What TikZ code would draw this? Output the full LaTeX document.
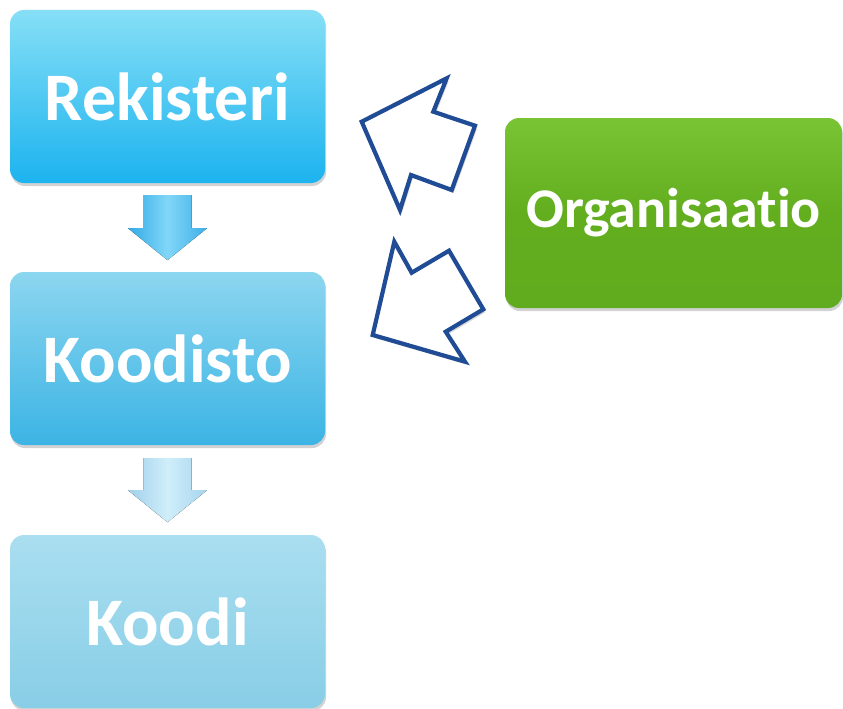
\documentclass[tikz,border=0pt]{standalone}
\usepackage{fontspec}
\setmainfont[Ligatures={NoCommon}]{Carlito}
\usetikzlibrary{shadows}
\definecolor{arrowblue}{HTML}{1F4C94}
\tikzset{
  box/.style={draw=none, rounded corners=14pt, text=white, inner sep=0pt,
    font=\bfseries\fontsize{68}{68}\selectfont,
    drop shadow={opacity=0.35, shadow xshift=1pt, shadow yshift=-3pt}},
  hollow/.style={draw=arrowblue, line width=4.2pt, fill=white, line join=miter,
    drop shadow={opacity=0.3, shadow xshift=2pt, shadow yshift=-3pt}}
}
\begin{document}
\begin{tikzpicture}[x=1pt,y=-1pt]
\useasboundingbox[fill=white] (0,0) rectangle (843,709);

\node[box, minimum width=315pt, minimum height=173pt,
  top color={rgb,255:red,134;green,223;blue,246}, bottom color={rgb,255:red,28;green,179;blue,239}]
  (rek) at (167.5,96.5) {Rekisteri};
\node[box, minimum width=315pt, minimum height=173pt,
  top color={rgb,255:red,140;green,214;blue,240}, bottom color={rgb,255:red,60;green,180;blue,228}]
  (kod) at (167.5,358.5) {Koodisto};
\node[box, minimum width=315pt, minimum height=173pt,
  top color={rgb,255:red,170;green,222;blue,240}, bottom color={rgb,255:red,136;green,206;blue,230}]
  (koo) at (167.5,621.5) {Koodi};
\node[box, minimum width=337pt, minimum height=190pt, font=\bfseries\fontsize{56}{56}\selectfont,
  top color={rgb,255:red,120;green,196;blue,52}, bottom color={rgb,255:red,96;green,172;blue,30},
  middle color={rgb,255:red,98;green,174;blue,31}]
  (org) at (673.5,213) {Organisaatio};

\begin{scope}[shift={(rek.south)}]
  \fill[left color={rgb,255:red,50;green,170;blue,230}, right color={rgb,255:red,60;green,175;blue,232},
        middle color={rgb,255:red,130;green,215;blue,248}]
    (-24,12) -- (24,12) -- (24,45) -- (39.5,45) -- (0,77) -- (-39.5,45) -- (-24,45) -- cycle;
\end{scope}
\begin{scope}[shift={(kod.south)}]
  \fill[left color={rgb,255:red,160;green,208;blue,235}, right color={rgb,255:red,165;green,212;blue,238},
        middle color={rgb,255:red,208;green,238;blue,250}]
    (-24,13) -- (24,13) -- (24,45) -- (39.5,45) -- (0,77) -- (-39.5,45) -- (-24,45) -- cycle;
\end{scope}

\path[hollow] (361.7,121.7) -- (446.7,78.3) -- (433.3,111.7) -- (475,125.7)
  -- (451.7,190) -- (411,175) -- (400,210) -- cycle;
\path[hollow] (394.3,241.7) -- (411.7,272.7) -- (449,250.7) -- (483.3,309.3)
  -- (445.7,331.7) -- (465,361.7) -- (372.7,335) -- cycle;
\end{tikzpicture}
\end{document}
